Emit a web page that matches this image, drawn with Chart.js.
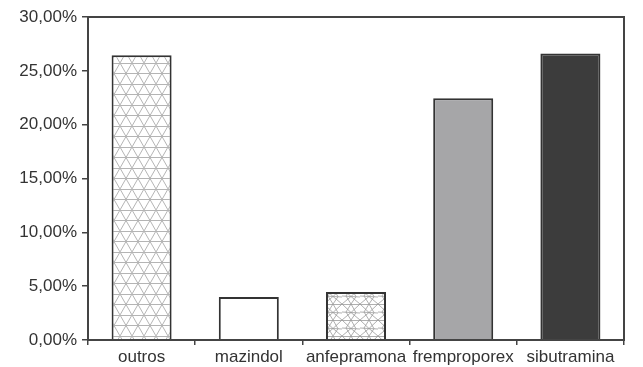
<!doctype html>
<html lang="pt">
<head>
<meta charset="utf-8">
<title>Anorexígenos</title>
<script src="https://cdn.jsdelivr.net/npm/chart.js"></script>
<style>
  html,body{margin:0;padding:0;background:#fff}
  #wrap{width:643px;height:367px}
</style>
</head>
<body>
<div id="wrap"><canvas id="chart" width="643" height="367"></canvas></div>

<script>
/* ---------- data ------------------------------------------------------ */
const categories = ['outros','mazindol','anfepramona','fremproporex','sibutramina'];
const shares     = [26.45, 4.0, 4.45, 22.45, 26.6];      // % of total
const yTicks     = [0, 5, 10, 15, 20, 25, 30];

/* ---------- fill patterns -------------------------------------------- */
// triangular lattice tile: horizontals at 0 and h/2 plus both diagonals
function latticePattern(w,h,stroke,lw){
  const c=document.createElement('canvas'); c.width=w; c.height=h;
  const g=c.getContext('2d');
  g.fillStyle='#fff'; g.fillRect(0,0,w,h);
  g.strokeStyle=stroke; g.lineWidth=lw;
  g.beginPath();
  g.moveTo(0,0.5); g.lineTo(w,0.5);
  g.moveTo(0,h/2); g.lineTo(w,h/2);
  g.moveTo(0,0); g.lineTo(w,h);
  g.moveTo(w,0); g.lineTo(0,h);
  g.stroke();
  return g.createPattern(c,'repeat');
}
// denser, slightly uneven mesh
function meshPattern(){
  const c=document.createElement('canvas'); c.width=18; c.height=16;
  const g=c.getContext('2d');
  g.fillStyle='#fff'; g.fillRect(0,0,18,16);
  g.strokeStyle='#9a9a9a'; g.lineWidth=0.8;
  g.beginPath();
  g.moveTo(0,0.5); g.lineTo(18,0.5);
  g.moveTo(0,8); g.lineTo(18,9);
  g.moveTo(0,0); g.lineTo(9,8.5); g.lineTo(18,16);
  g.moveTo(18,0); g.lineTo(9,8.5); g.lineTo(0,16);
  g.moveTo(9,0); g.lineTo(4,8); g.lineTo(9,16);
  g.moveTo(9,0); g.lineTo(14,8.7); g.lineTo(9,16);
  g.stroke();
  return g.createPattern(c,'repeat');
}

const fills = [
  latticePattern(12,21,'#b4b4b4',1),
  '#ffffff',
  meshPattern(),
  '#a6a6a8',
  '#3c3c3c'
];

/* ---------- frame round the plot area ------------------------------- */
const frame={
  id:'frame',
  afterDraw(chart){
    const {ctx,chartArea:a}=chart;
    ctx.save();
    ctx.strokeStyle='#444'; ctx.lineWidth=2;
    ctx.strokeRect(a.left,a.top,a.right-a.left,a.bottom-a.top);
    ctx.restore();
  }
};

const font={family:'"Liberation Sans", Arial, sans-serif',size:17};

new Chart(document.getElementById('chart'),{
  type:'bar',
  data:{labels:categories,datasets:[{
    data:shares,
    backgroundColor:fills,
    borderColor:'#333',
    borderWidth:2,
    barPercentage:0.56,
    categoryPercentage:1
  }]},
  options:{
    responsive:false,
    animation:false,
    layout:{padding:{left:0,top:17,right:19,bottom:0}},
    plugins:{legend:{display:false},tooltip:{enabled:false}},
    scales:{
      x:{
        grid:{display:true,drawOnChartArea:false,drawTicks:true,tickLength:5,color:'#444',lineWidth:1.5,offset:true},
        border:{display:false},
        ticks:{color:'#333',font,padding:2,maxRotation:0,autoSkip:false},
        afterFit(s){s.height=27;}
      },
      y:{
        min:0,max:30,
        afterBuildTicks(s){s.ticks=yTicks.map(v=>({value:v}));},
        grid:{display:true,drawOnChartArea:false,drawTicks:true,tickLength:6,color:'#444',lineWidth:1.5},
        border:{display:false},
        ticks:{color:'#333',font,padding:5,
               callback:v=>v.toFixed(2).replace('.',',')+'%'},
        afterFit(s){s.width=88;}
      }
    }
  },
  plugins:[frame]
});
</script>
</body>
</html>
